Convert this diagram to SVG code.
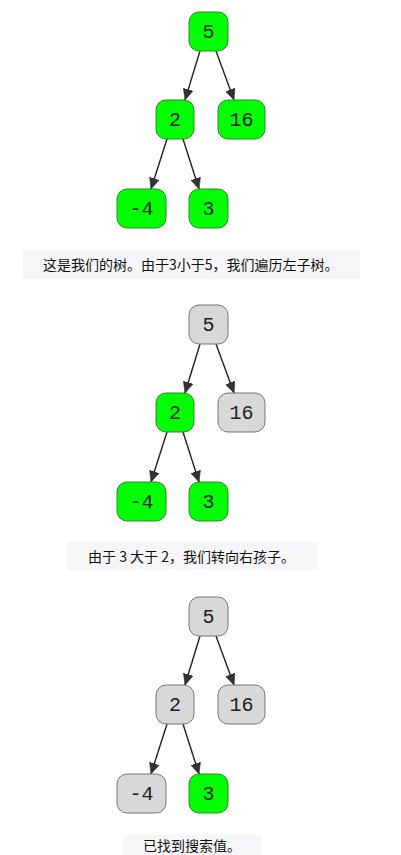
<svg xmlns="http://www.w3.org/2000/svg" width="401" height="855" viewBox="0 0 401 855">
<defs>
<marker id="arr" markerUnits="userSpaceOnUse" markerWidth="12" markerHeight="10" refX="11" refY="5" orient="auto">
<path d="M0,0 L11,5 L0,10 Z" fill="#333" stroke="#222" stroke-width="0.5"/>
</marker>
<style>
.g rect{fill:#00ff00;stroke:#2a8a2a;stroke-width:1}
.y rect{fill:#d8d8d8;stroke:#777;stroke-width:1}
.n text{font-family:"Liberation Mono","DejaVu Sans Mono",monospace;font-size:20px;fill:#222;text-anchor:middle}
.e line{stroke:#222;stroke-width:1.4;marker-end:url(#arr)}
.cap rect{fill:#f6f6f8}
.cap text{font-family:"Noto Sans CJK SC","Microsoft YaHei",sans-serif;font-size:14px;fill:#111}
</style>
</defs>
<rect width="401" height="855" fill="#fff"/>

<!-- Tree 1 -->
<g id="tree1">
<g id="t1-edges" class="e">
<line x1="200" y1="51" x2="185" y2="100"/>
<line x1="216" y1="51" x2="234" y2="100"/>
<line x1="167" y1="139" x2="151" y2="189"/>
<line x1="183" y1="139" x2="199" y2="189"/>
</g>
<g id="t1-n5" class="n g"><rect x="189" y="12" width="39" height="39" rx="10"/><text x="208.5" y="38">5</text></g>
<g id="t1-n2" class="n g"><rect x="156" y="100" width="38" height="39" rx="10"/><text x="175" y="126">2</text></g>
<g id="t1-n16" class="n g"><rect x="218" y="100" width="47" height="39" rx="10"/><text x="241.5" y="126">16</text></g>
<g id="t1-nm4" class="n g"><rect x="117" y="189" width="49" height="39" rx="10"/><text x="141.5" y="215">-4</text></g>
<g id="t1-n3" class="n g"><rect x="189" y="189" width="39" height="39" rx="10"/><text x="208.5" y="215">3</text></g>
</g>
<g id="cap1" class="cap"><rect x="23" y="250" width="337" height="29"/><text x="43" y="270">这是我们的树。由于3小于5，我们遍历左子树。</text></g>

<!-- Tree 2 -->
<g id="tree2" transform="translate(0,293)">
<g id="t2-edges" class="e">
<line x1="200" y1="51" x2="185" y2="100"/>
<line x1="216" y1="51" x2="234" y2="100"/>
<line x1="167" y1="139" x2="151" y2="189"/>
<line x1="183" y1="139" x2="199" y2="189"/>
</g>
<g id="t2-n5" class="n y"><rect x="189" y="12" width="39" height="39" rx="10"/><text x="208.5" y="38">5</text></g>
<g id="t2-n2" class="n g"><rect x="156" y="100" width="38" height="39" rx="10"/><text x="175" y="126">2</text></g>
<g id="t2-n16" class="n y"><rect x="218" y="100" width="47" height="39" rx="10"/><text x="241.5" y="126">16</text></g>
<g id="t2-nm4" class="n g"><rect x="117" y="189" width="49" height="39" rx="10"/><text x="141.5" y="215">-4</text></g>
<g id="t2-n3" class="n g"><rect x="189" y="189" width="39" height="39" rx="10"/><text x="208.5" y="215">3</text></g>
</g>
<g id="cap2" class="cap"><rect x="67" y="542" width="251" height="28"/><text x="88" y="562">由于 3 大于 2，我们转向右孩子。</text></g>

<!-- Tree 3 -->
<g id="tree3" transform="translate(0,585)">
<g id="t3-edges" class="e">
<line x1="200" y1="51" x2="185" y2="100"/>
<line x1="216" y1="51" x2="234" y2="100"/>
<line x1="167" y1="139" x2="151" y2="189"/>
<line x1="183" y1="139" x2="199" y2="189"/>
</g>
<g id="t3-n5" class="n y"><rect x="189" y="12" width="39" height="39" rx="10"/><text x="208.5" y="38">5</text></g>
<g id="t3-n2" class="n y"><rect x="156" y="100" width="38" height="39" rx="10"/><text x="175" y="126">2</text></g>
<g id="t3-n16" class="n y"><rect x="218" y="100" width="47" height="39" rx="10"/><text x="241.5" y="126">16</text></g>
<g id="t3-nm4" class="n y"><rect x="117" y="189" width="49" height="39" rx="10"/><text x="141.5" y="215">-4</text></g>
<g id="t3-n3" class="n g"><rect x="189" y="189" width="39" height="39" rx="10"/><text x="208.5" y="215">3</text></g>
</g>
<g id="cap3" class="cap"><rect x="123" y="835" width="139" height="20"/><text x="143" y="851">已找到搜索值。</text></g>
</svg>
